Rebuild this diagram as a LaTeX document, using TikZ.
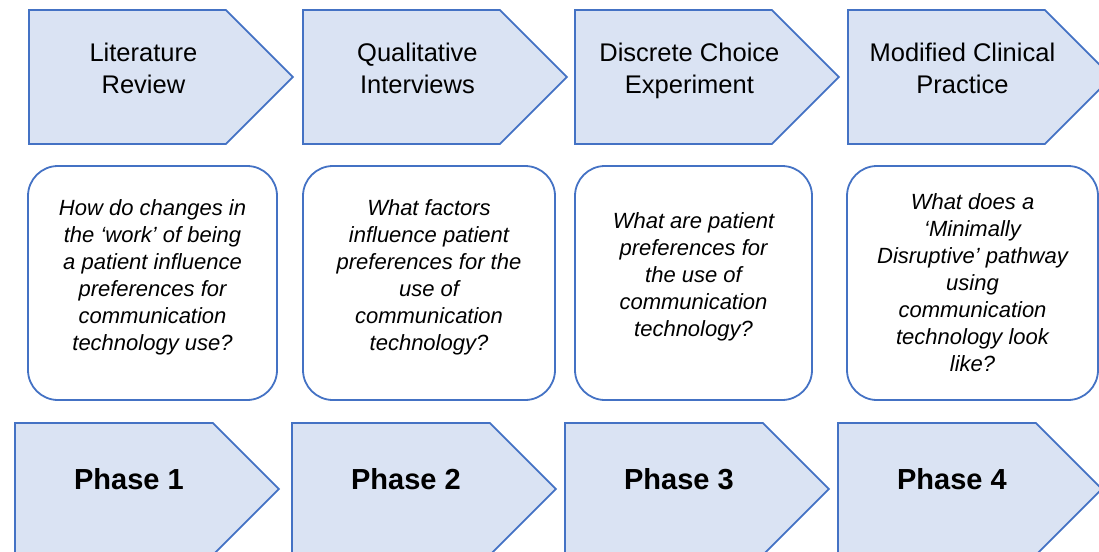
\documentclass[tikz,border=0pt]{standalone}
\usepackage{fontspec}
\setmainfont{Liberation Sans}
\usetikzlibrary{shapes.symbols}
\definecolor{frame}{HTML}{4472C4}
\definecolor{panel}{HTML}{DAE3F3}

\begin{document}
\begin{tikzpicture}[x=1pt, y=-1pt,
  stage/.style={signal, signal to=east, signal pointer angle=90, draw=frame, fill=panel,
    line width=1.8pt, minimum width=264pt, minimum height=134pt, anchor=west},
  phase/.style={stage, minimum height=132pt},
  heading/.style={align=center, xshift=16pt, yshift=9pt, text depth=0pt,
    font=\fontsize{25.5}{32}\selectfont},
  step label/.style={align=center, xshift=15pt, yshift=10pt,
    font=\bfseries\fontsize{29}{34}\selectfont},
  question/.style={rectangle, rounded corners=30pt, draw=frame, line width=1.8pt,
    minimum height=234pt, align=center, font=\itshape\fontsize{22}{27}\selectfont},
  ]
  \useasboundingbox (0,0) rectangle (1099,551);

  % methods
  \node (review)    [stage, label={[heading]center:Literature\\Review}] at (28,77) {};
  \node (interview) [stage, label={[heading]center:Qualitative\\Interviews}] at (302,77) {};
  \node (dce)       [stage, label={[heading]center:Discrete Choice\\Experiment}] at (574,77) {};
  \node (practice)  [stage, label={[heading]center:Modified Clinical\\Practice}] at (847,77) {};

  % research questions
  \node (q1) [question, minimum width=249pt, text depth=16pt] at (152.5,283)
    {How do changes in\\the `work' of being\\a patient influence\\preferences for\\communication\\technology use?};
  \node (q2) [question, minimum width=252pt, text depth=16pt] at (429,283)
    {What factors\\influence patient\\preferences for the\\use of\\communication\\technology?};
  \node (q3) [question, minimum width=237pt, text depth=17pt] at (693.5,283)
    {What are patient\\preferences for\\the use of\\communication\\technology?};
  \node (q4) [question, minimum width=251pt] at (972.5,283)
    {What does a\\`Minimally\\Disruptive' pathway\\using\\communication\\technology look\\like?};

  % phases
  \node (phase1) [phase, label={[step label]center:Phase 1}] at (14,489)  {};
  \node (phase2) [phase, label={[step label]center:Phase 2}] at (291,489) {};
  \node (phase3) [phase, label={[step label]center:Phase 3}] at (564,489) {};
  \node (phase4) [phase, label={[step label]center:Phase 4}] at (837,489) {};
\end{tikzpicture}
\end{document}
